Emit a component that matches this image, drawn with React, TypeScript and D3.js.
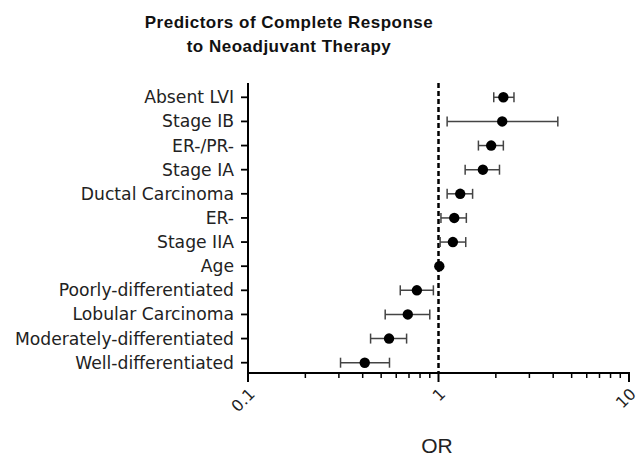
import * as d3 from "d3";
import { useRef, useEffect } from "react";

// predictors, top to bottom
const labels = [
  "Absent LVI",
  "Stage IB",
  "ER-/PR-",
  "Stage IA",
  "Ductal Carcinoma",
  "ER-",
  "Stage IIA",
  "Age",
  "Poorly-differentiated",
  "Lobular Carcinoma",
  "Moderately-differentiated",
  "Well-differentiated",
];

// odds ratios and 95% CI
const orValues = [2.19, 2.16, 1.89, 1.71, 1.3, 1.21, 1.19, 1.01, 0.77, 0.69, 0.55, 0.41];
const ciLow = [1.95, 1.11, 1.62, 1.38, 1.11, 1.03, 1.02, 0.99, 0.63, 0.525, 0.44, 0.306];
const ciHigh = [2.49, 4.23, 2.19, 2.09, 1.51, 1.4, 1.39, 1.03, 0.94, 0.9, 0.68, 0.553];

const xTicks = [0.1, 1, 10];
const titleLines = ["Predictors of Complete Response", "to Neoadjuvant  Therapy"];

export default function App() {
  const svgRef = useRef<SVGSVGElement>(null);

  useEffect(() => {
    const svg = d3.select(svgRef.current);
    svg.selectAll("*").remove();

    const left = 248, right = 629, top = 83, bottom = 373;

    const x = d3.scaleLog().domain([0.1, 10]).range([left, right]);
    const y = d3.scalePoint<string>().domain(labels).range([97.3, 362.7]);

    const font = "'DejaVu Sans', Verdana, sans-serif";
    const arial = "'Liberation Sans', Arial, sans-serif";

    // title
    svg.append("g").selectAll("text").data(titleLines).join("text")
      .attr("x", 289).attr("y", (d, i) => 28 + i * 24)
      .attr("text-anchor", "middle")
      .attr("font-family", arial)
      .attr("font-weight", "bold").attr("font-size", 17)
      .attr("letter-spacing", 0.5)
      .attr("fill", "#111")
      .text(d => d);

    // reference line at OR = 1
    svg.append("line")
      .attr("x1", x(1)).attr("x2", x(1)).attr("y1", top).attr("y2", bottom)
      .attr("stroke", "#000").attr("stroke-width", 2.5).attr("stroke-dasharray", "5,3");

    // y axis
    svg.append("line").attr("x1", left).attr("x2", left).attr("y1", top).attr("y2", bottom + 1)
      .attr("stroke", "#000").attr("stroke-width", 2);
    const yt = svg.append("g").selectAll("g").data(labels).join("g")
      .attr("transform", d => `translate(0,${y(d)})`);
    yt.append("line").attr("x1", left - 7).attr("x2", left).attr("stroke", "#000").attr("stroke-width", 1.8);
    yt.append("text").attr("x", left - 14).attr("dy", "0.35em")
      .attr("text-anchor", "end").attr("font-family", font).attr("font-size", 17.2)
      .attr("fill", "#222").text(d => d);

    // x axis with major and minor log ticks
    svg.append("line").attr("x1", left - 1).attr("x2", right + 1).attr("y1", bottom).attr("y2", bottom)
      .attr("stroke", "#000").attr("stroke-width", 2);
    const minor = x.ticks().filter(t => !xTicks.includes(t));
    svg.append("g").selectAll("line").data(minor).join("line")
      .attr("x1", d => x(d)).attr("x2", d => x(d)).attr("y1", bottom).attr("y2", bottom + 5)
      .attr("stroke", "#000").attr("stroke-width", 1.5);
    const xt = svg.append("g").selectAll("g").data(xTicks).join("g")
      .attr("transform", d => `translate(${x(d)},${bottom})`);
    xt.append("line").attr("y1", 0).attr("y2", 9).attr("stroke", "#000").attr("stroke-width", 2);
    xt.append("text")
      .attr("transform", "translate(4,18) rotate(-45)")
      .attr("text-anchor", "end").attr("dy", "0.35em")
      .attr("font-family", font).attr("font-size", 16).attr("fill", "#222")
      .text(d => String(d));

    svg.append("text").attr("x", 437).attr("y", 453).attr("text-anchor", "middle")
      .attr("font-family", arial).attr("font-size", 21)
      .attr("fill", "#222").text("OR");

    // error bars and points
    const rows = svg.append("g").selectAll("g").data(labels).join("g")
      .attr("transform", d => `translate(0,${y(d)})`);
    rows.append("line")
      .attr("x1", (d, i) => x(ciLow[i])).attr("x2", (d, i) => x(ciHigh[i]))
      .attr("stroke", "#444").attr("stroke-width", 1.5);
    rows.append("line")
      .attr("x1", (d, i) => x(ciLow[i])).attr("x2", (d, i) => x(ciLow[i]))
      .attr("y1", -5).attr("y2", 5).attr("stroke", "#444").attr("stroke-width", 1.5);
    rows.append("line")
      .attr("x1", (d, i) => x(ciHigh[i])).attr("x2", (d, i) => x(ciHigh[i]))
      .attr("y1", -5).attr("y2", 5).attr("stroke", "#444").attr("stroke-width", 1.5);
    rows.append("circle")
      .attr("cx", (d, i) => x(orValues[i])).attr("r", 5.2).attr("fill", "#000");
  }, []);

  return (
    <svg ref={svgRef} width={640} height={457}
      style={{ position: "fixed", top: 0, left: 0, background: "#fff" }} />
  );
}
